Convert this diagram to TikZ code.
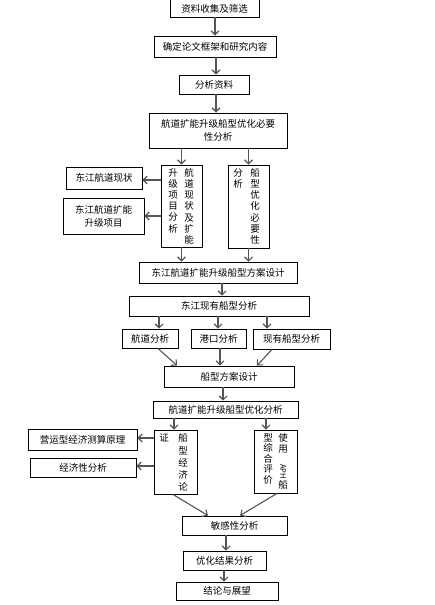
\documentclass[tikz,border=0pt]{standalone}
\usepackage{fontspec}
\setmainfont{Noto Sans CJK SC}
\usepackage{graphicx}
\usetikzlibrary{arrows.meta,positioning}
\definecolor{ink}{RGB}{85,85,85}
\tikzset{
  >={Straight Barb[length=4pt,width=8pt]},
  box/.style 2 args={draw=black,line width=0.9pt,minimum width=#1pt,minimum height=#2pt,
    inner sep=0pt,align=center,font=\fontsize{9.5}{13}\selectfont},
  col/.style={inner sep=0pt,align=center,anchor=north,font=\fontsize{9.5}{#1}\selectfont},
  col/.default=11.2,
  flow/.style={->,line width=1.1pt,draw=ink},
}
\begin{document}
\begin{tikzpicture}[x=1pt,y=-1pt]
  \path[use as bounding box,fill=white] (0,0) rectangle (434,605);

  % main column
  \node[box={89}{24}] (collect) at (214.5,5) {\raisebox{-8pt}[0pt][0pt]{资料收集及筛选}};
  \node[box={122}{21}] (frame) at (215,46.5) {确定论文框架和研究内容};
  \node[box={70}{19}] (analyze) at (214,84.5) {分析资料};
  \node[box={138}{35}] (need) at (218,130.5) {航道扩能升级船型优化必要\\性分析};

  % necessity analysis
  \node[box={41}{82}] (vA) at (181.5,206) {};
  \node[col] (vA-r) at (189,168) {航\\道\\现\\状\\及\\扩\\能};
  \node[col] (vA-l) at (173,168) {升\\级\\项\\目\\分\\析};
  \node[box={41}{83}] (vB) at (248.5,206.5) {};
  \node[col] (vB-r) at (255,168) {船\\型\\优\\化\\必\\要\\性};
  \node[col] (vB-l) at (238,168) {分\\析};
  \node[box={76}{22}] (now) at (104,178) {东江航道现状};
  \node[box={81}{36}] (proj) at (103.5,216) {东江航道扩能\\升级项目};

  % scheme design
  \node[box={158}{21}] (design) at (218,272.5) {东江航道扩能升级船型方案设计};
  \node[box={180}{20}] (fleet) at (219,306) {东江现有船型分析};
  \node[box={56}{19}] (chan) at (150,338.5) {航道分析};
  \node[box={55}{19}] (port) at (218.5,338.5) {港口分析};
  \node[box={77}{20}] (ship) at (291.5,339) {现有船型分析};
  \node[box={130}{21}] (scheme) at (229,376.5) {船型方案设计};

  % optimisation
  \node[box={145}{17}] (opt) at (225.5,409.5) {航道扩能升级船型优化分析};
  \node[box={43}{64}] (vC) at (175.5,462) {};
  \node[col=12.3] (vC-r) at (183,433.5) {船\\型\\经\\济\\论};
  \node[col=12.3] (vC-l) at (164,433.5) {证};
  \node[box={43}{63}] (vD) at (275.5,461.5) {};
  \node[col=11.6] (vD-r) at (283,433) {使\\用\\{\fontsize{7.5}{9}\selectfont\rotatebox{-90}{APH}}\\船};
  \node[col=10.6] (vD-l) at (268,433) {型\\综\\合\\评\\价};
  \node[box={109}{21}] (theory) at (82.5,439.5) {营运型经济测算原理};
  \node[box={106}{19}] (econ) at (83,467.5) {经济性分析};
  \node[box={105}{19}] (sens) at (234.5,525.5) {敏感性分析};
  \node[box={83}{19}] (result) at (224.5,560.5) {优化结果分析};
  \node[box={102}{18}] (concl) at (227,591) {结论与展望};

  % connectors
  \draw[flow] (collect.south -| 215,0) -- (frame.north -| 215,0);
  \draw[flow] (frame.south -| 216,0) -- (analyze.north -| 216,0);
  \draw[flow] (analyze.south -| 216,0) -- (need.north -| 216,0);
  \draw[flow] (need.south -| vA.north) -- (vA.north);
  \draw[flow] (need.south -| vB.north) -- (vB.north);
  \draw[flow] (vA.west |- 0,180) -- (now.east |- 0,180);
  \draw[flow] (vA.west |- 0,216) -- (proj.east |- 0,216);
  \draw[flow] (vA.south) -- (design.north -| vA.south);
  \draw[flow] (vB.south) -- (design.north -| vB.south);
  \draw[flow] (design.south -| 222,0) -- (fleet.north -| 222,0);
  \draw[flow] (fleet.south -| 159,0) -- (chan.north -| 159,0);
  \draw[flow] (fleet.south -| 218,0) -- (port.north -| 218,0);
  \draw[flow] (fleet.south -| 267,0) -- (ship.north -| 267,0);
  \draw[flow] (chan.south -| 158,0) -- (scheme.north -| 177,0);
  \draw[flow] (port.south -| 220,0) -- (scheme.north -| 220,0);
  \draw[flow] (ship.south -| 272,0) -- (scheme.north -| 257,0);
  \draw[flow] (scheme.south -| 223,0) -- (opt.north -| 223,0);
  \draw[flow] (opt.south -| 174,0) -- (vC.north -| 174,0);
  \draw[flow] (opt.south -| 266,0) -- (vD.north -| 266,0);
  \draw[flow] (vC.west |- 0,438) -- (theory.east |- 0,438);
  \draw[flow] (vC.west |- 0,466) -- (econ.east |- 0,466);
  \draw[flow] (vC.south -| 173,0) -- (sens.north -| 208,0);
  \draw[flow] (vD.south -| 277,0) -- (sens.north -| 240,0);
  \draw[flow] (sens.south -| 226,0) -- (result.north -| 226,0);
  \draw[flow] (result.south -| 224,0) -- (concl.north -| 224,0);
\end{tikzpicture}
\end{document}
